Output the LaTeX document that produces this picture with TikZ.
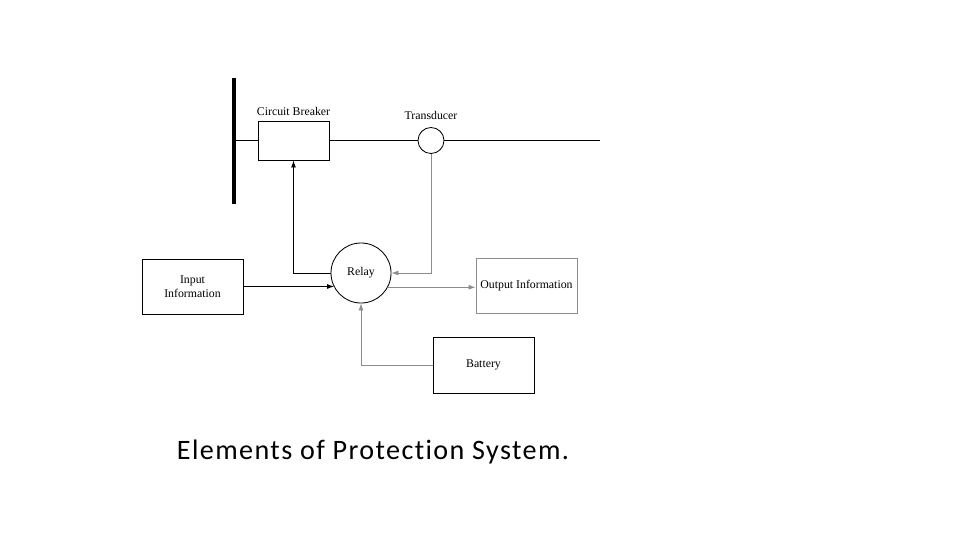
\documentclass[tikz,border=0pt]{standalone}
\usepackage{fontspec}
\setmainfont{Liberation Serif}
\newfontfamily\captionfont[Ligatures=NoCommon, LetterSpace=5]{Carlito}
\usetikzlibrary{positioning,arrows.meta}
\begin{document}
\begin{tikzpicture}[
  x=0.025cm, y=-0.025cm,
  line width=0.6pt,
  every node/.style={font=\fontsize{8.4}{10}\selectfont, inner sep=1pt},
  block/.style={draw, minimum width=2.525cm, minimum height=1.375cm, align=center},
  ring/.style={circle, draw},
  feed/.style={-{Latex[length=5pt, width=3.5pt]}},
  faint/.style={draw=black!45}
]
  \useasboundingbox (0,0) rectangle (960,540);
  % bus bar and line
  \coordinate (bustop) at (234,78);
  \coordinate (busbot) at (234,204);
  \coordinate (busmid) at (234,140.5);
  \coordinate (lineend) at (600,140.5);
  \draw[line width=2.2pt] (bustop) -- (busbot);
  % elements
  \node[block, minimum width=1.775cm, minimum height=0.975cm] (cb) at (293.5,140.5) {};
  \node[above=2pt of cb] (cblabel) {Circuit Breaker};
  \node[ring, minimum size=0.65cm] (td) at (431,140.5) {};
  \node[above=4pt of td] (tdlabel) {Transducer};
  \node[ring, minimum size=1.5cm] (relay) at (361,273) {Relay};
  \node[block] (input) at (192.5,286.5) {Input\\Information};
  \node[block, faint] (output) at (526.5,286) {Output Information};
  \node[block, minimum height=1.4cm] (battery) at (483.5,365) {Battery};
  % connections
  \draw (busmid) -- (cb.west);
  \draw (cb.east) -- (td.west);
  \draw (td.east) -- (lineend);
  \draw[feed, draw=black!45] (td.south) |- (relay.east);
  \draw[feed] (relay.west) -| (cb.south);
  \draw[feed] (input.east) -- (input.east -| relay.208);
  \draw[feed, draw=black!45] (relay.332) -- (relay.332 -| output.west);
  \draw[feed, draw=black!45] (battery.west) -| (relay.south);
  % caption
  \node[font=\captionfont\fontsize{20}{24}\selectfont] (caption) at (373,452) {Elements of Protection System.};
\end{tikzpicture}
\end{document}
